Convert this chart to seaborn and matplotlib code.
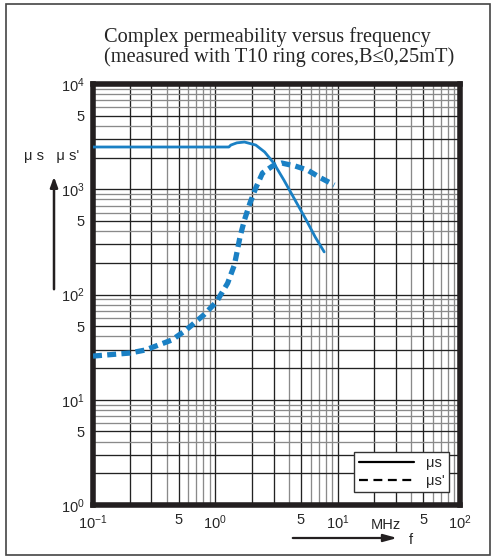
import numpy as np
import pandas as pd
import matplotlib
matplotlib.use("Agg")
import matplotlib.pyplot as plt
import seaborn as sns
from matplotlib.lines import Line2D
from matplotlib.patches import Rectangle

# ---- data ----
freq_mu_s = [0.1, 1.29, 1.34, 1.50, 1.73, 2.14, 2.53, 3.00, 3.63, 4.48, 5.53, 6.56, 7.76]
mu_s = [2520, 2520, 2630, 2760, 2810, 2630, 2260, 1775, 1225, 791, 511, 351, 254]

freq_mu_s2 = [0.1, 0.201, 0.268, 0.442, 0.577, 0.805, 1.02, 1.26, 1.43, 1.49, 1.59,
              1.73, 1.92, 2.14, 2.43, 2.94, 3.48, 4.48, 5.65, 7.28, 9.38]
mu_s2 = [26, 27.8, 29.7, 37, 46, 64, 85, 128, 190, 240, 351,
         511, 740, 1028, 1427, 1664, 1775, 1664, 1524, 1280, 1096]

x_ticks = [0.1, 0.5, 1, 5, 10, 50, 100]
x_ticklabels = ["$10^{-1}$", "5", "$10^{0}$", "5", "$10^{1}$", "5", "$10^{2}$"]
y_ticks = [1, 5, 10, 50, 100, 500, 1000, 5000, 10000]
y_ticklabels = ["$10^{0}$", "5", "$10^{1}$", "5", "$10^{2}$", "5", "$10^{3}$", "5", "$10^{4}$"]

title_lines = ["Complex permeability versus frequency",
               "(measured with T10 ring cores,B\u22640,25mT)"]
legend_labels = ["\u03bcs", "\u03bcs'"]

BLUE = "#1a80c4"

sns.set_style("white")
plt.rcParams["font.family"] = ["Liberation Sans", "DejaVu Sans"]
plt.rcParams["mathtext.fontset"] = "custom"
plt.rcParams["mathtext.rm"] = "Liberation Sans"
plt.rcParams["mathtext.it"] = "Liberation Sans"

W, H = 492, 557
fig = plt.figure(figsize=(W / 100, H / 100), dpi=100)
L, R, T, B = 93, 460, 84, 505
ax = fig.add_axes([L / W, (H - B) / H, (R - L) / W, (B - T) / H])

ax.set_xscale("log")
ax.set_yscale("log")
ax.set_xlim(0.1, 100)
ax.set_ylim(1, 10000)

# grid lines
for dec in [0.1, 1, 10]:
    for s in range(1, 10):
        v = dec * s
        if v <= 0.1 or v >= 100:
            continue
        dark = s in (1, 2, 3, 5)
        ax.axvline(v, color="#222222" if dark else "#8a8a8a", lw=0.95, zorder=0.5)
for dec in [1, 10, 100, 1000]:
    for s in range(1, 10):
        v = dec * s
        if v <= 1 or v >= 10000:
            continue
        dark = s in (1, 2, 3, 5)
        ax.axhline(v, color="#222222" if dark else "#8a8a8a", lw=0.95, zorder=0.5)

df1 = pd.DataFrame({"f": freq_mu_s, "mu": mu_s})
df2 = pd.DataFrame({"f": freq_mu_s2, "mu": mu_s2})
sns.lineplot(data=df1, x="f", y="mu", ax=ax, color=BLUE, lw=2.0,
             estimator=None, sort=True, zorder=3)
sns.lineplot(data=df2, x="f", y="mu", ax=ax, color=BLUE, lw=3.8,
             estimator=None, sort=True, zorder=3, dashes=False)
ax.lines[-1].set_dashes((1.7, 1.0))
ax.lines[-1].set_dash_capstyle("butt")

ax.set_xlabel("")
ax.set_ylabel("")
ax.set_xticks(x_ticks)
ax.set_xticklabels(x_ticklabels, fontsize=10.5)
ax.set_yticks(y_ticks)
ax.set_yticklabels(y_ticklabels, fontsize=10.5)
ax.minorticks_off()
ax.tick_params(axis="both", length=0, pad=6)
for sp in ax.spines.values():
    sp.set_visible(True)
    sp.set_color("#231f20")
    sp.set_linewidth(4.0)

# MHz label on x axis
ax.text(25, -0.03, "MHz", transform=ax.get_xaxis_transform(),
        ha="center", va="top", fontsize=10.5)

# legend
handles = [Line2D([], [], color="black", lw=1.6),
           Line2D([], [], color="black", lw=1.6, dashes=(4, 2.5))]
leg = ax.legend(handles, legend_labels, loc="lower right",
                bbox_to_anchor=(1 - 11 / (R - L), 13 / (B - T)),
                frameon=True, fancybox=False, framealpha=1, edgecolor="#333333",
                fontsize=10.5, handlelength=3.8, borderpad=0.3, labelspacing=0.25,
                borderaxespad=0, handletextpad=0.8)
leg.get_frame().set_linewidth(1.0)

# title
fig.text(104 / W, 1 - 37 / H, title_lines[0], family=["Liberation Serif", "DejaVu Serif"],
         fontsize=14.7, ha="left", va="center")
fig.text(104 / W, 1 - 57 / H, title_lines[1], family=["Liberation Serif", "DejaVu Serif"],
         fontsize=14.7, ha="left", va="center")

# y axis label with arrow
fig.text(52 / W, 1 - 156 / H, "\u03bc s   \u03bc s'", fontsize=10.5, ha="center", va="center")
fig.add_artist(matplotlib.patches.FancyArrowPatch(
    (54 / W, 1 - 292 / H), (54 / W, 1 - 174 / H), transform=fig.transFigure,
    arrowstyle="-|>,head_length=6,head_width=2.2", color="#231f20", lw=1.8))

# x axis arrow with f
fig.add_artist(matplotlib.patches.FancyArrowPatch(
    (290 / W, 1 - 538 / H), (400 / W, 1 - 538 / H), transform=fig.transFigure,
    arrowstyle="-|>,head_length=8,head_width=2.2", color="#231f20", lw=1.6))
fig.text(411 / W, 1 - 540 / H, "f", fontsize=10.5, ha="center", va="center")

# outer frame
fig.add_artist(Rectangle((6 / W, 1 - 555 / H), 484 / W, 551 / H, transform=fig.transFigure,
                         fill=False, edgecolor="#444444", lw=1.2))

fig.savefig("out.png", dpi=100)
